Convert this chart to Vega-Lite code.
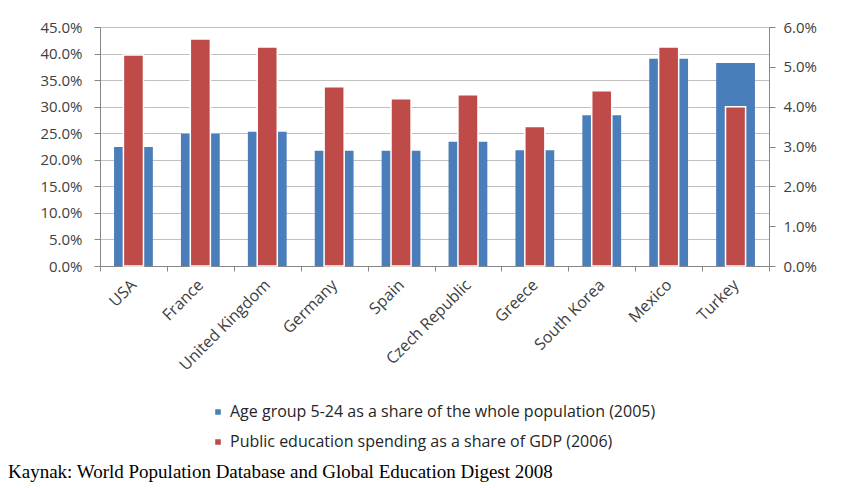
{
  "$schema": "https://vega.github.io/schema/vega-lite/v6.json",
  "width": 669,
  "height": 239,
  "autosize": {"type": "none"},
  "padding": {"left": 100, "top": 27, "right": 72, "bottom": 222},
  "background": "white",
  "config": {
    "font": "Open Sans",
    "view": {"stroke": null},
    "axis": {"labelFont": "Open Sans", "labelFontSize": 15, "labelColor": "#404040", "domainColor": "#868686", "tickColor": "#868686", "gridColor": "#c0c0c0", "titleFontSize": 0}
  },
  "data": {
    "values": [
      {"country": "USA", "pop": 0.224, "edu": 0.053},
      {"country": "France", "pop": 0.249, "edu": 0.057},
      {"country": "United Kingdom", "pop": 0.253, "edu": 0.055},
      {"country": "Germany", "pop": 0.217, "edu": 0.045},
      {"country": "Spain", "pop": 0.217, "edu": 0.042},
      {"country": "Czech Republic", "pop": 0.234, "edu": 0.043},
      {"country": "Greece", "pop": 0.218, "edu": 0.035},
      {"country": "South Korea", "pop": 0.284, "edu": 0.044},
      {"country": "Mexico", "pop": 0.390, "edu": 0.055},
      {"country": "Turkey", "pop": 0.382, "edu": 0.040}
    ]
  },
  "title": {
    "text": "Kaynak: World Population Database and Global Education Digest 2008",
    "orient": "bottom",
    "anchor": "start",
    "frame": "group",
    "font": "Liberation Serif",
    "fontSize": 19,
    "fontWeight": "normal",
    "color": "#000000",
    "dx": -92,
    "offset": 13
  },
  "encoding": {
    "x": {
      "field": "country",
      "type": "nominal",
      "sort": null,
      "scale": {"paddingInner": 0, "paddingOuter": 0},
      "axis": {"title": null, "labelAngle": -45, "labelAlign": "right", "labelBaseline": "middle", "labelFontSize": 16, "labelPadding": 11, "tickBand": "extent", "tickSize": 5, "grid": false}
    }
  },
  "layer": [
    {
      "mark": {"type": "bar", "width": {"band": 0.58}},
      "encoding": {
        "y": {
          "field": "pop",
          "type": "quantitative",
          "scale": {"domain": [0, 0.45], "nice": false},
          "axis": {"title": null, "format": ".1%", "values": [0, 0.05, 0.1, 0.15, 0.2, 0.25, 0.3, 0.35, 0.4, 0.45], "grid": true, "tickSize": 6, "labelPadding": 12}
        },
        "color": {
          "datum": "Age group 5-24 as a share of the whole population (2005)",
          "scale": {"domain": ["Age group 5-24 as a share of the whole population (2005)", "Public education spending as a share of GDP (2006)"], "range": ["#4a7ebb", "#be4b48"]},
          "legend": {
            "title": null,
            "orient": "none",
            "legendX": 110,
            "legendY": 377,
            "direction": "vertical",
            "symbolType": "square",
            "symbolSize": 50,
            "labelFont": "Open Sans",
            "labelFontSize": 16,
            "labelColor": "#262626",
            "rowPadding": 14,
            "labelLimit": 700
          }
        }
      }
    },
    {
      "mark": {"type": "bar", "width": {"band": 0.3}, "stroke": "#ffffff", "strokeWidth": 1.5},
      "encoding": {
        "y": {
          "field": "edu",
          "type": "quantitative",
          "scale": {"domain": [0, 0.06], "nice": false},
          "axis": {"title": null, "orient": "right", "format": ".1%", "values": [0, 0.01, 0.02, 0.03, 0.04, 0.05, 0.06], "grid": false, "tickSize": 6, "labelPadding": 8}
        },
        "color": {"datum": "Public education spending as a share of GDP (2006)"}
      }
    }
  ],
  "resolve": {"scale": {"y": "independent"}}
}
